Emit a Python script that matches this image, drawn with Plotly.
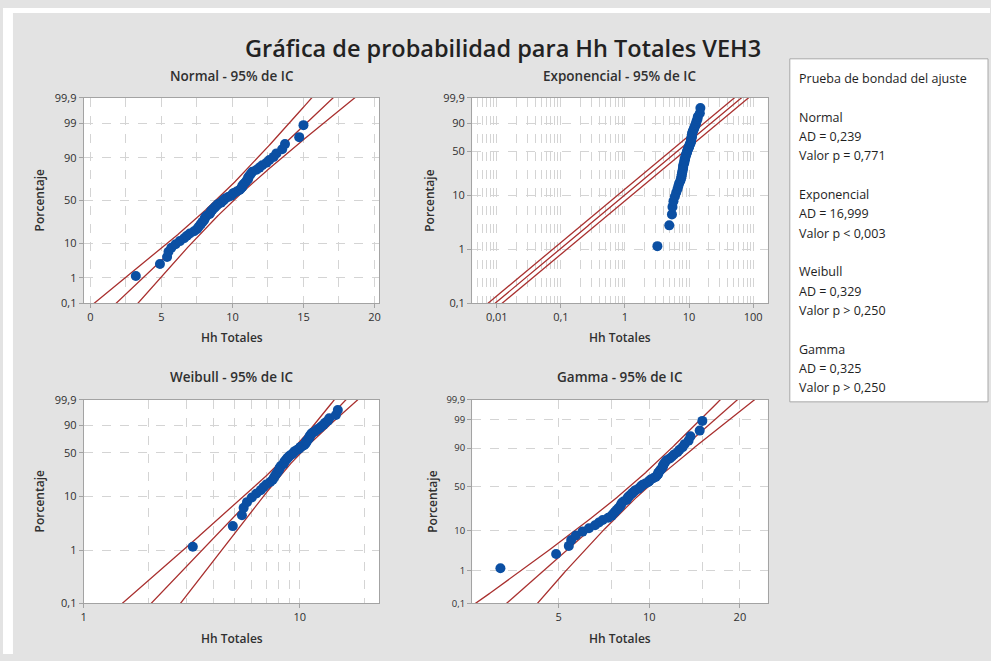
import math
from statistics import NormalDist
import numpy as np
import plotly.graph_objects as go

# ---------------- data ----------------
hh_totales = [
    3.2, 4.9, 5.4, 5.5, 5.7, 6.0, 6.3, 6.6, 6.8, 7.0,
    7.3, 7.5, 7.6, 7.7, 7.8, 7.9, 8.0, 8.05, 8.1, 8.2,
    8.4, 8.45, 8.5, 8.6, 8.7, 8.8, 8.9, 9.0, 9.2, 9.3,
    9.4, 9.5, 9.7, 9.9, 10.0, 10.1, 10.3, 10.5, 10.6, 10.7,
    10.7, 10.8, 10.9, 11.0, 11.1, 11.1, 11.2, 11.3, 11.4, 11.7,
    11.9, 12.1, 12.4, 12.6, 12.9, 13.1, 13.5, 13.7, 14.7, 15.0,
]

pct_ticks_full = [0.1, 1, 10, 50, 90, 99, 99.9]
pct_text_full = ["0,1", "1", "10", "50", "90", "99", "99,9"]
pct_ticks_short = [0.1, 1, 10, 50, 90, 99.9]
pct_text_short = ["0,1", "1", "10", "50", "90", "99,9"]

normal_xticks = [0, 5, 10, 15, 20]
exp_xticks = [0.01, 0.1, 1, 10, 100]
exp_xtext = ["0,01", "0,1", "1", "10", "100"]
weib_xticks = [1, 10]
gamma_xticks = [5, 10, 20]

panel_titles = ["Normal - 95% de IC", "Exponencial - 95% de IC",
                "Weibull - 95% de IC", "Gamma - 95% de IC"]
main_title = "Gráfica de probabilidad para Hh Totales VEH3"
x_title = "Hh Totales"
y_title = "Porcentaje"

gof_header = "Prueba de bondad del ajuste"
gof_groups = [
    ["Normal", "AD = 0,239", "Valor p = 0,771"],
    ["Exponencial", "AD = 16,999", "Valor p < 0,003"],
    ["Weibull", "AD = 0,329", "Valor p > 0,250"],
    ["Gamma", "AD = 0,325", "Valor p > 0,250"],
]

# ---------------- statistics helpers ----------------
ND = NormalDist()
x = np.array(sorted(hh_totales), dtype=float)
n = len(x)
ranks = np.arange(1, n + 1)
p_pts = (ranks - 0.3) / (n + 0.4)          # median ranks (Minitab default)
Z975 = ND.inv_cdf(0.975)


def digamma(v):
    r = 0.0
    while v < 6:
        r -= 1.0 / v
        v += 1
    f = 1.0 / (v * v)
    return r + math.log(v) - 0.5 / v - f * (1 / 12 - f * (1 / 120 - f * (1 / 252 - f * (1 / 240 - f / 132))))


def trigamma(v):
    r = 0.0
    while v < 6:
        r += 1.0 / (v * v)
        v += 1
    f = 1.0 / (v * v)
    return r + 1 / v + f / 2 + (1 / v) * f * (1 / 6 - f * (1 / 30 - f * (1 / 42 - f / 30)))


def bisect(fun, lo, hi, it=200):
    flo = fun(lo)
    for _ in range(it):
        mid = 0.5 * (lo + hi)
        fm = fun(mid)
        if (fm > 0) == (flo > 0):
            lo, flo = mid, fm
        else:
            hi = mid
    return 0.5 * (lo + hi)


# Normal (ML)
mu = x.mean()
sig = x.std()

# Exponential
theta_e = x.mean()

# Weibull (ML)
lx = np.log(x)
def weib_eq(b):
    xb = x ** b
    return (xb * lx).sum() / xb.sum() - 1 / b - lx.mean()
beta_w = bisect(weib_eq, 0.2, 60)
alpha_w = (np.mean(x ** beta_w)) ** (1 / beta_w)
bw = 1 / beta_w
uw = math.log(alpha_w)

# Gamma (ML)
s_g = math.log(x.mean()) - lx.mean()
k_g = bisect(lambda k: math.log(k) - digamma(k) - s_g, 0.05, 5000)
theta_g = x.mean() / k_g


def lnQ(p, k):
    z = np.vectorize(ND.inv_cdf)(p)
    return np.log(k) + 3 * np.log(1 - 1 / (9 * k) + z / (3 * math.sqrt(k)))


# y-axis transforms
def t_norm(p):
    return np.vectorize(ND.inv_cdf)(np.asarray(p, dtype=float))

def t_sev(p):
    p = np.asarray(p, dtype=float)
    return np.log(-np.log(1 - p))

def t_gamma(p):
    return lnQ(np.asarray(p, dtype=float), k_g)


# evaluation grid for fitted lines
zg = np.linspace(-4.2, 4.2, 421)
pg = np.array([ND.cdf(v) for v in zg])

# Normal lines
se_n = sig * np.sqrt(1 / n + zg ** 2 / (2 * n))
norm_c = mu + sig * zg
norm_lo = norm_c - Z975 * se_n
norm_hi = norm_c + Z975 * se_n

# Exponential lines
wg = t_sev(pg)
exp_c = theta_e * np.exp(wg)
f_e = math.exp(Z975 / math.sqrt(n))
exp_lo = exp_c / f_e
exp_hi = exp_c * f_e

# Weibull lines
lnxw = uw + wg * bw
se_w = bw * np.sqrt((1.1087 + 2 * 0.2570 * wg + 0.6079 * wg ** 2) / n)
weib_c = np.exp(lnxw)
weib_lo = np.exp(lnxw - Z975 * se_w)
weib_hi = np.exp(lnxw + Z975 * se_w)

# Gamma lines
lq = lnQ(pg, k_g)
dk = 1e-4 * k_g
glnq = (lnQ(pg, k_g + dk) - lnQ(pg, k_g - dk)) / (2 * dk)
psi1 = trigamma(k_g)
var_lg = (glnq ** 2 * k_g + psi1 - 2 * glnq) / (n * (k_g * psi1 - 1))
lnxg = math.log(theta_g) + lq
gam_c = np.exp(lnxg)
gam_lo = np.exp(lnxg - Z975 * np.sqrt(var_lg))
gam_hi = np.exp(lnxg + Z975 * np.sqrt(var_lg))

# ---------------- figure ----------------
W, H = 991, 661
def fx(v):
    return v / W
def fy(v):
    return 1 - v / H

FONT = "Open Sans, Noto Sans, DejaVu Sans, sans-serif"
LINE_C = "#a9302f"
MARK_C = "#0b4fa3"
GRID_C = "#d4d4d4"
AXIS_C = "#a3a3a3"
TXT_C = "#303030"

boxes = [(81, 378, 92, 302), (471, 768, 92, 302), (81, 378, 401, 609), (471, 768, 401, 609)]

fig = go.Figure()

panels = [
    (norm_lo, norm_c, norm_hi, t_norm(pg), t_norm(p_pts)),
    (exp_lo, exp_c, exp_hi, wg, t_sev(p_pts)),
    (weib_lo, weib_c, weib_hi, wg, t_sev(p_pts)),
    (gam_lo, gam_c, gam_hi, t_gamma(pg), t_gamma(p_pts)),
]

for i, (lo, c, hi, yl, yp) in enumerate(panels):
    ax = "" if i == 0 else str(i + 1)
    for arr in (lo, c, hi):
        fig.add_trace(go.Scatter(x=arr, y=yl, mode="lines",
                                 line=dict(color=LINE_C, width=1.3),
                                 xaxis="x" + ax, yaxis="y" + ax,
                                 hoverinfo="skip", showlegend=False))
    fig.add_trace(go.Scatter(x=x, y=yp, mode="markers",
                             marker=dict(color=MARK_C, size=10, line=dict(width=0)),
                             xaxis="x" + ax, yaxis="y" + ax, showlegend=False))

common = dict(showline=True, mirror=True, linecolor=AXIS_C, linewidth=1,
              ticks="outside", ticklen=4, tickcolor=AXIS_C,
              showgrid=True, gridcolor=GRID_C, griddash="dash", gridwidth=1,
              zeroline=False, tickfont=dict(family=FONT, size=11, color=TXT_C),
              fixedrange=True)

def minor(vals):
    return dict(tickmode="array", tickvals=vals, showgrid=True, gridcolor=GRID_C,
                griddash="dash", gridwidth=1, ticks="")

exp_minor = [m * 10.0 ** e for e in range(-3, 3) for m in range(2, 10)]
weib_minor = [2, 3, 4, 5, 6, 7, 8, 9, 20]

layout = dict(
    width=W, height=H, margin=dict(l=0, r=0, t=0, b=0),
    paper_bgcolor="#e3e3e3", plot_bgcolor="white",
    showlegend=False, font=dict(family=FONT, color=TXT_C),
)

xr = [
    dict(type="linear", range=[-0.47, 20.35], tickmode="array", tickvals=normal_xticks,
         ticktext=[str(v) for v in normal_xticks], minor=minor([2.5, 7.5, 12.5, 17.5])),
    dict(type="log", range=[-2.385, 2.229], tickmode="array", tickvals=exp_xticks,
         ticktext=exp_xtext, minor=minor(exp_minor)),
    dict(type="log", range=[0.0, 1.369], tickmode="array", tickvals=weib_xticks,
         ticktext=[str(v) for v in weib_xticks], minor=minor(weib_minor)),
    dict(type="log", range=[0.411, 1.394], tickmode="array", tickvals=gamma_xticks,
         ticktext=[str(v) for v in gamma_xticks], minor=minor([7.5, 15])),
]
ytr = [t_norm, t_sev, t_sev, t_gamma]
yticks = [(pct_ticks_full, pct_text_full), (pct_ticks_short, pct_text_short),
          (pct_ticks_short, pct_text_short), (pct_ticks_full, pct_text_full)]

for i in range(4):
    ax = "" if i == 0 else str(i + 1)
    x0, x1, y0, y1 = boxes[i]
    xa = dict(common)
    xa.update(xr[i])
    xa.update(domain=[fx(x0), fx(x1)], anchor="y" + ax)
    tf = ytr[i]
    tv, tt = yticks[i]
    ya = dict(common)
    yfont = dict(family=FONT, size=11 if i < 3 else 9.5, color=TXT_C)
    ya.update(domain=[fy(y1), fy(y0)], anchor="x" + ax, type="linear",
              range=[float(tf([0.001])[0]), float(tf([0.999])[0])],
              tickmode="array", tickvals=[float(v) for v in tf(np.array(tv) / 100)],
              ticktext=tt, tickfont=yfont)
    layout["xaxis" + ax] = xa
    layout["yaxis" + ax] = ya

fig.update_layout(**layout)

# background panel edges and goodness-of-fit box
shapes = [
    dict(type="rect", xref="paper", yref="paper", x0=0, x1=fx(10), y0=0, y1=1,
         fillcolor="white", line=dict(width=0), layer="below"),
    dict(type="rect", xref="paper", yref="paper", x0=0, x1=1, y0=fy(5), y1=1,
         fillcolor="white", line=dict(width=0), layer="below"),
    dict(type="rect", xref="paper", yref="paper", x0=fx(790), x1=fx(989), y0=fy(403), y1=fy(52),
         fillcolor="white", line=dict(color="#a8a8a8", width=1), layer="below"),
]
fig.update_layout(shapes=shapes)

ann = []
def text(t, xp, yp, size=12, weight=400, xanchor="center", angle=0, color=TXT_C):
    ann.append(dict(text=t, x=fx(xp), y=fy(yp), xref="paper", yref="paper",
                    xanchor=xanchor, yanchor="middle", showarrow=False, textangle=angle,
                    font=dict(family=FONT, size=size, color=color, weight=weight)))

text(main_title, 502, 41, size=23.5, weight=600, color="#222222")
centers_x = [(b[0] + b[1]) / 2 for b in boxes]
title_y = [70, 70, 378, 378]
xt_y = [337, 337, 645, 645]
yt_x = [37, 428, 37, 431]
for i in range(4):
    text(panel_titles[i], centers_x[i], title_y[i], size=13.5, weight=600)
    text(x_title, centers_x[i], xt_y[i], size=12, weight=600)
    text(y_title, yt_x[i], (boxes[i][2] + boxes[i][3]) / 2, size=12, weight=600, angle=-90)

text(gof_header, 797, 72, size=12.5, xanchor="left", color="#1e1e1e")
for g, lines in enumerate(gof_groups):
    for j, t in enumerate(lines):
        text(t, 797, 111.6 + 79.2 * g + 19.8 * j, size=12.5, xanchor="left", color="#1e1e1e")

fig.update_layout(annotations=ann)
fig.write_html("out.html")
